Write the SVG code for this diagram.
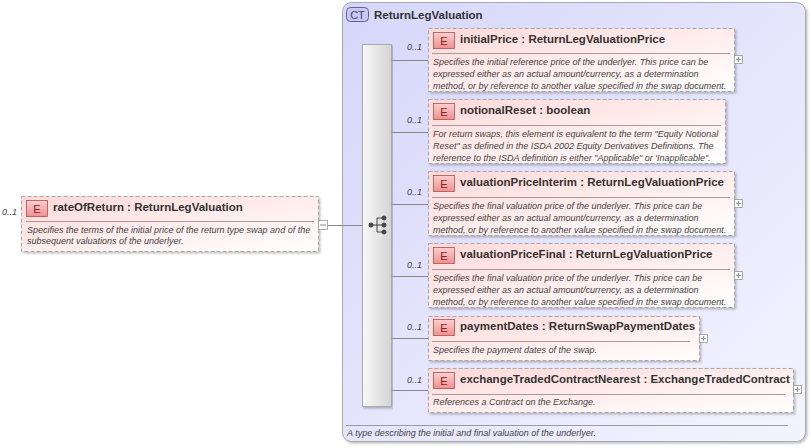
<svg xmlns="http://www.w3.org/2000/svg" width="811" height="448" viewBox="0 0 811 448">
<defs>
<linearGradient id="eg" x1="0" y1="0" x2="1" y2="1"><stop offset="0" stop-color="#ffd8d8"/><stop offset="0.6" stop-color="#fff0f0"/><stop offset="1" stop-color="#ffffff"/></linearGradient>
<linearGradient id="ctg" x1="0" y1="0" x2="1" y2="1"><stop offset="0" stop-color="#d6d6fa"/><stop offset="1" stop-color="#f4f4ff"/></linearGradient>
<linearGradient id="bg" x1="0" y1="0" x2="1" y2="0"><stop offset="0" stop-color="#f8f8f8"/><stop offset="1" stop-color="#d4d4d4"/></linearGradient>
<linearGradient id="badge" x1="0" y1="0" x2="0" y2="1"><stop offset="0" stop-color="#fbd0d0"/><stop offset="1" stop-color="#ee8f8f"/></linearGradient>
<filter id="sh" x="-5%" y="-5%" width="110%" height="120%"><feDropShadow dx="1.5" dy="1.5" stdDeviation="1" flood-color="#000" flood-opacity="0.25"/></filter>
</defs>
<style>
.box{fill:url(#eg);stroke:#aaa;stroke-dasharray:4,2;stroke-width:1;filter:url(#sh)}
.bd{fill:url(#badge);stroke:#b05050;stroke-width:0.8}
.bt{font-family:"Liberation Sans",Arial,sans-serif;font-size:11px;fill:#8a1d1d;text-anchor:middle}
.t{font-family:"Liberation Sans",Arial,sans-serif;font-size:11.5px;font-weight:bold;fill:#333}
.d{font-family:"Liberation Sans",Arial,sans-serif;font-size:9px;font-style:italic;fill:#444}
.m{font-family:"Liberation Sans",Arial,sans-serif;font-size:9px;font-style:italic;fill:#444}
.sep{stroke:#888;stroke-width:0.8}
.ln{stroke:#888;stroke-width:1;fill:none}
.pb{fill:#fff;stroke:#999;stroke-width:0.8}
</style>
<g id="ct">
<rect x="342.5" y="2.5" width="463" height="439" rx="9" fill="url(#ctg)" stroke="#aaa" filter="url(#sh)"/>
<rect x="346.5" y="7.5" width="22" height="14" rx="4" fill="#c8c8f0" stroke="#6060a0"/>
<text x="357.5" y="18.5" font-family="Liberation Sans,Arial,sans-serif" font-size="11" fill="#404080" text-anchor="middle">CT</text>
<text x="374" y="18.5" class="t">ReturnLegValuation</text>
<line x1="346" y1="425.5" x2="788" y2="425.5" class="sep"/>
<text x="347" y="436" class="m">A type describing the initial and final valuation of the underlyer.</text>
</g>
<g id="sequence">
<rect x="362.5" y="44.5" width="29" height="362" fill="url(#bg)" stroke="#aaa" filter="url(#sh)"/>
<g stroke="#444" fill="#444" stroke-width="1">
<circle cx="371" cy="225" r="2"/><line x1="371" y1="225" x2="377" y2="225"/>
<line x1="377" y1="218" x2="377" y2="232"/><line x1="377" y1="218" x2="383" y2="218"/><line x1="377" y1="225" x2="383" y2="225"/><line x1="377" y1="232" x2="383" y2="232"/>
<circle cx="384" cy="218" r="2"/><circle cx="384" cy="225" r="2"/><circle cx="384" cy="232" r="2"/>
</g>
</g>
<g id="connectors">
<path class="ln" d="M327 225.5H362.5M391.5 60.5H428M391.5 132.5H428M391.5 204.5H428M391.5 276.5H428M391.5 338.5H428M391.5 390.5H428"/>
</g>
<g id="rateOfReturn">
<text x="2" y="215" class="m">0..1</text>
<rect x="21.5" y="196.5" width="297" height="55" class="box"/>
<rect x="26.5" y="200.5" width="21" height="16" class="bd"/><text x="37" y="212.5" class="bt">E</text>
<text x="53" y="211" class="t">rateOfReturn : ReturnLegValuation</text>
<line x1="26" y1="221.5" x2="314" y2="221.5" class="sep"/>
<text x="27" y="233" class="d">Specifies the terms of the initial price of the return type swap and of the</text>
<text x="27" y="244" class="d">subsequent valuations of the underlyer.</text>
<rect x="318.5" y="220.5" width="9" height="9" class="pb"/><line x1="320" y1="225" x2="326" y2="225" stroke="#888"/>
</g>
<g id="initialPrice">
<text x="407" y="50" class="m">0..1</text>
<rect x="428.5" y="28.5" width="306" height="63" class="box"/>
<rect x="433.5" y="32.5" width="21" height="16" class="bd"/><text x="444" y="44.5" class="bt">E</text>
<text x="460" y="43" class="t">initialPrice : ReturnLegValuationPrice</text>
<line x1="432" y1="53.5" x2="730" y2="53.5" class="sep"/>
<text x="433" y="65" class="d">Specifies the initial reference price of the underlyer. This price can be</text>
<text x="433" y="77" class="d">expressed either as an actual amount/currency, as a determination</text>
<text x="433" y="89" class="d">method, or by reference to another value specified in the swap document.</text>
<rect x="734.5" y="55.5" width="8" height="8" class="pb"/><path d="M736 59.5h5M738.5 57v5" stroke="#999"/>
</g>
<g id="notionalReset">
<text x="407" y="123" class="m">0..1</text>
<rect x="428.5" y="99.5" width="297" height="64" class="box"/>
<rect x="433.5" y="103.5" width="21" height="16" class="bd"/><text x="444" y="115.5" class="bt">E</text>
<text x="460" y="114" class="t">notionalReset : boolean</text>
<line x1="432" y1="125.5" x2="721" y2="125.5" class="sep"/>
<text x="433" y="137" class="d">For return swaps, this element is equivalent to the term "Equity Notional</text>
<text x="433" y="149" class="d">Reset" as defined in the ISDA 2002 Equity Derivatives Definitions. The</text>
<text x="433" y="161" class="d">reference to the ISDA definition is either "Applicable" or 'Inapplicable".</text>
</g>
<g id="valuationPriceInterim">
<text x="407" y="195" class="m">0..1</text>
<rect x="428.5" y="171.5" width="306" height="64" class="box"/>
<rect x="433.5" y="175.5" width="21" height="16" class="bd"/><text x="444" y="187.5" class="bt">E</text>
<text x="460" y="186" class="t">valuationPriceInterim : ReturnLegValuationPrice</text>
<line x1="432" y1="197.5" x2="730" y2="197.5" class="sep"/>
<text x="433" y="209" class="d">Specifies the final valuation price of the underlyer. This price can be</text>
<text x="433" y="221" class="d">expressed either as an actual amount/currency, as a determination</text>
<text x="433" y="233" class="d">method, or by reference to another value specified in the swap document.</text>
<rect x="734.5" y="199.5" width="8" height="8" class="pb"/><path d="M736 203.5h5M738.5 201v5" stroke="#999"/>
</g>
<g id="valuationPriceFinal">
<text x="407" y="268" class="m">0..1</text>
<rect x="428.5" y="243.5" width="306" height="64" class="box"/>
<rect x="433.5" y="247.5" width="21" height="16" class="bd"/><text x="444" y="259.5" class="bt">E</text>
<text x="460" y="258" class="t">valuationPriceFinal : ReturnLegValuationPrice</text>
<line x1="432" y1="269.5" x2="730" y2="269.5" class="sep"/>
<text x="433" y="281" class="d">Specifies the final valuation price of the underlyer. This price can be</text>
<text x="433" y="293" class="d">expressed either as an actual amount/currency, as a determination</text>
<text x="433" y="305" class="d">method, or by reference to another value specified in the swap document.</text>
<rect x="734.5" y="271.5" width="8" height="8" class="pb"/><path d="M736 275.5h5M738.5 273v5" stroke="#999"/>
</g>
<g id="paymentDates">
<text x="407" y="330" class="m">0..1</text>
<rect x="428.5" y="316.5" width="271" height="44" class="box"/>
<rect x="433.5" y="319.5" width="21" height="16" class="bd"/><text x="444" y="331.5" class="bt">E</text>
<text x="460" y="330" class="t">paymentDates : ReturnSwapPaymentDates</text>
<line x1="432" y1="341.5" x2="690" y2="341.5" class="sep"/>
<text x="433" y="353" class="d">Specifies the payment dates of the swap.</text>
<rect x="699.5" y="334.5" width="8" height="8" class="pb"/><path d="M701 338.5h5M703.5 336v5" stroke="#999"/>
</g>
<g id="exchangeTradedContractNearest">
<text x="407" y="383" class="m">0..1</text>
<rect x="428.5" y="368.5" width="365" height="44" class="box"/>
<rect x="433.5" y="372.5" width="21" height="16" class="bd"/><text x="444" y="384.5" class="bt">E</text>
<text x="460" y="383" class="t">exchangeTradedContractNearest : ExchangeTradedContract</text>
<line x1="432" y1="394.5" x2="785" y2="394.5" class="sep"/>
<text x="433" y="405" class="d">References a Contract on the Exchange.</text>
<rect x="793.5" y="385.5" width="8" height="8" class="pb"/><path d="M795 389.5h5M797.5 387v5" stroke="#999"/>
</g>
</svg>
